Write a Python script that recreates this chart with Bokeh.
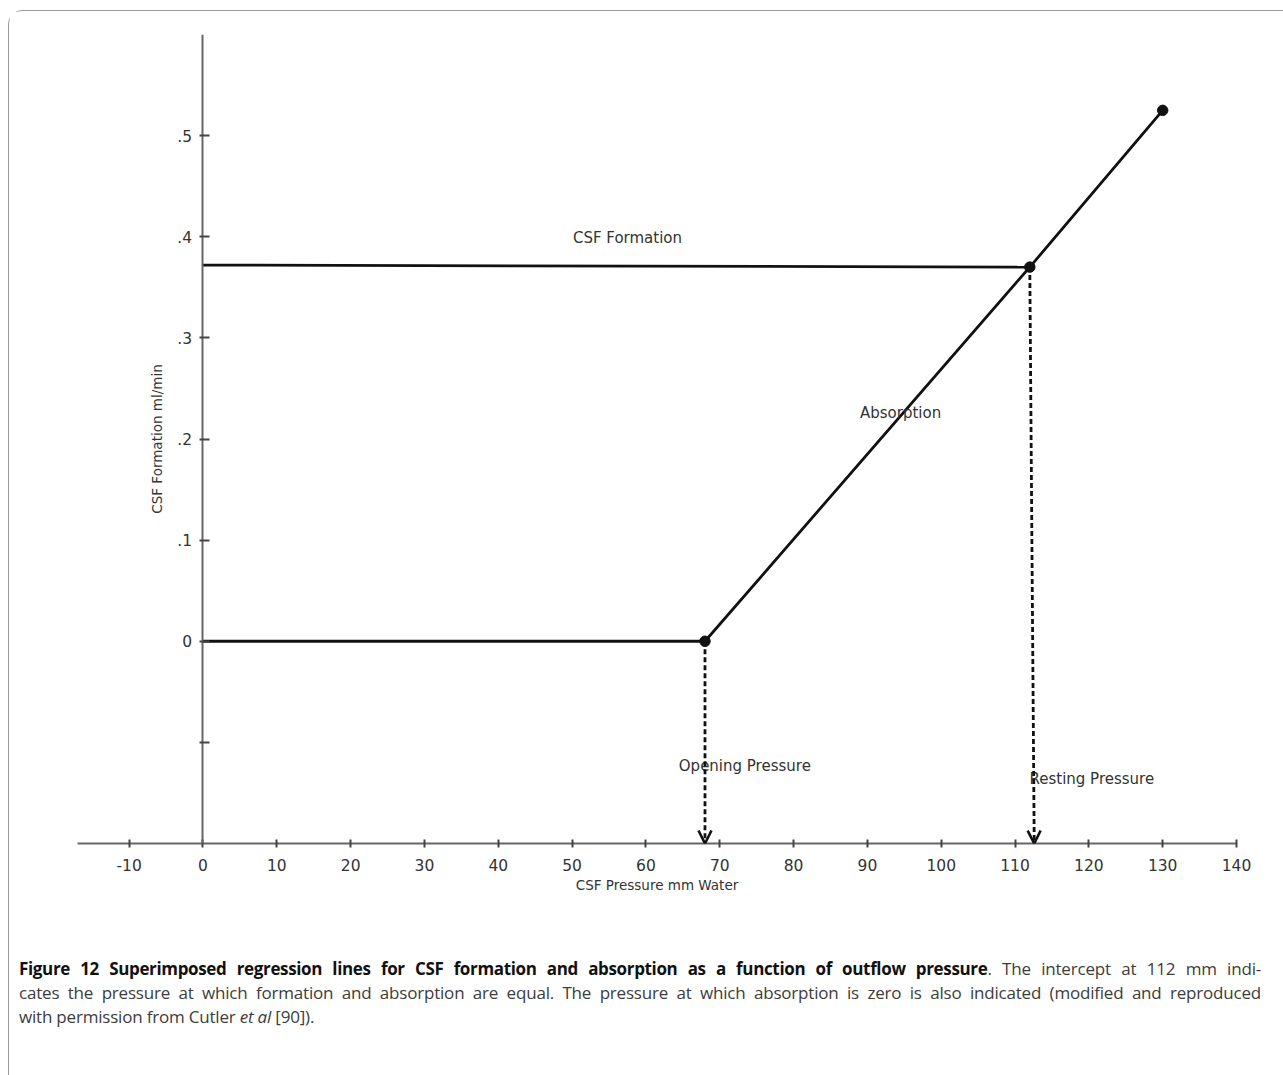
from bokeh.plotting import figure
from bokeh.models import (LinearAxis, FixedTicker, Arrow, OpenHead, Div,
                          ColumnDataSource, Range1d)
from bokeh.layouts import column
from bokeh.embed import file_html
from bokeh.resources import INLINE
from bokeh.core.properties import value

# ---------------- data ----------------
x_ticks = [-10, 0, 10, 20, 30, 40, 50, 60, 70, 80, 90, 100, 110, 120, 130, 140]
x_tick_labels = ["-10", "0", "10", "20", "30", "40", "50", "60", "70", "80",
                 "90", "100", "110", "120", "130", "140"]
y_ticks = [-0.1, 0.0, 0.1, 0.2, 0.3, 0.4, 0.5]
y_tick_labels = ["", "0", ".1", ".2", ".3", ".4", ".5"]

formation_x = [0, 112]
formation_y = [0.372, 0.370]

baseline_x = [0, 68]
baseline_y = [0.0, 0.0]

absorption_x = [68, 112, 130]
absorption_y = [0.0, 0.370, 0.525]

dot_x = [68, 112, 130]
dot_y = [0.0, 0.370, 0.525]

arrow_x_start = [68, 112]
arrow_y_start = [0.0, 0.370]
arrow_x_end = [68, 112.6]
arrow_y_end = [-0.2, -0.2]

label_text = ["CSF Formation", "Absorption", "Opening Pressure", "Resting Pressure"]
label_x = [57.5, 94.5, 73.4, 120.4]
label_y = [0.399, 0.226, -0.123, -0.136]

x_title = "CSF Pressure mm Water"
y_title = "CSF Formation ml/min"

caption_bold = "Figure 12 Superimposed regression lines for CSF formation and absorption as a function of outflow pressure"
caption_rest1 = ". The intercept at 112 mm indi-"
caption_line2 = "cates the pressure at which formation and absorption are equal. The pressure at which absorption is zero is also indicated (modified and reproduced"
caption_line3_a = "with permission from Cutler "
caption_line3_i = "et al"
caption_line3_b = " [90])."

# ---------------- figure ----------------
p = figure(
    frame_width=1159, frame_height=809,
    x_range=Range1d(-17, 140), y_range=Range1d(-0.2, 0.6),
    x_axis_location=None, y_axis_location=None,
    output_backend="svg", toolbar_location=None,
    min_border_left=68, min_border_top=23, min_border_right=60, min_border_bottom=95,
    outline_line_color=None, background_fill_color="white", border_fill_color="white",
)
p.grid.visible = False

axis_color = "#666666"

xaxis = LinearAxis(
    ticker=FixedTicker(ticks=x_ticks),
    major_label_overrides={t: l for t, l in zip(x_ticks, x_tick_labels)},
    axis_label=x_title,
    axis_line_color=axis_color, axis_line_width=2,
    major_tick_line_color="#444444", major_tick_line_width=2,
    major_tick_in=4, major_tick_out=4,
    minor_tick_line_color=None,
    major_label_text_font="DejaVu Sans", major_label_text_font_size="15.5px",
    major_label_text_color="#333333", major_label_standoff=11,
    axis_label_text_font="DejaVu Sans", axis_label_text_font_size="13.5px",
    axis_label_text_font_style="normal", axis_label_text_color="#333333",
    axis_label_standoff=3,
)
p.add_layout(xaxis, "below")

yaxis = LinearAxis(
    ticker=FixedTicker(ticks=y_ticks),
    major_label_overrides={t: l for t, l in zip(y_ticks, y_tick_labels)},
    fixed_location=0,
    axis_label=y_title,
    axis_line_color=axis_color, axis_line_width=2,
    major_tick_line_color="#444444", major_tick_line_width=2,
    major_tick_in=7, major_tick_out=3,
    minor_tick_line_color=None,
    major_label_text_font="DejaVu Sans", major_label_text_font_size="15.5px",
    major_label_text_color="#333333", major_label_standoff=8,
    axis_label_text_font="DejaVu Sans", axis_label_text_font_size="13.5px",
    axis_label_text_font_style="normal", axis_label_text_color="#333333",
    axis_label_standoff=9,
)
p.add_layout(yaxis, "left")

line_color = "#111111"
p.line(formation_x, formation_y, line_color=line_color, line_width=2.8)
p.line(baseline_x, baseline_y, line_color=line_color, line_width=2.8)
p.line(absorption_x, absorption_y, line_color=line_color, line_width=2.8)
p.scatter(dot_x, dot_y, size=10.5, fill_color=line_color, line_color=line_color)

arrow_src = ColumnDataSource(dict(x0=arrow_x_start, y0=arrow_y_start,
                                  x1=arrow_x_end, y1=arrow_y_end))
p.add_layout(Arrow(
    end=OpenHead(size=13, line_width=2.6, line_color=line_color),
    x_start="x0", y_start="y0", x_end="x1", y_end="y1", source=arrow_src,
    line_color=line_color, line_width=2.8, line_dash="5 3",
))

lab_src = ColumnDataSource(dict(x=label_x, y=label_y, t=label_text))
p.text(x="x", y="y", text="t", source=lab_src,
       text_font=value("DejaVu Sans"), text_font_size="15px",
       text_color="#333333", text_align="center", text_baseline="middle")

# ---------------- caption ----------------
caption_html = (
    '<div style="font-family:\'Open Sans\',sans-serif;font-size:17px;line-height:24px;'
    'color:#3c3c3c;width:1242px;letter-spacing:-0.2px;">'
    '<div style="text-align:justify;text-align-last:justify;white-space:nowrap;">'
    f'<b style="color:#111;letter-spacing:-0.35px;">{caption_bold}</b>{caption_rest1}</div>'
    f'<div style="text-align:justify;text-align-last:justify;white-space:nowrap;">{caption_line2}</div>'
    f'<div>{caption_line3_a}<i>{caption_line3_i}</i>{caption_line3_b}</div>'
    '</div>'
)
cap = Div(text=caption_html, width=1250, height=150, margin=(19, 0, 0, 10))

layout = column(
    p, cap,
    margin=(10, 0, 0, 8),
    styles={"border": "1px solid #9a9a9a", "border-radius": "14px"},
)

open("out.html", "w").write(file_html(layout, INLINE))
